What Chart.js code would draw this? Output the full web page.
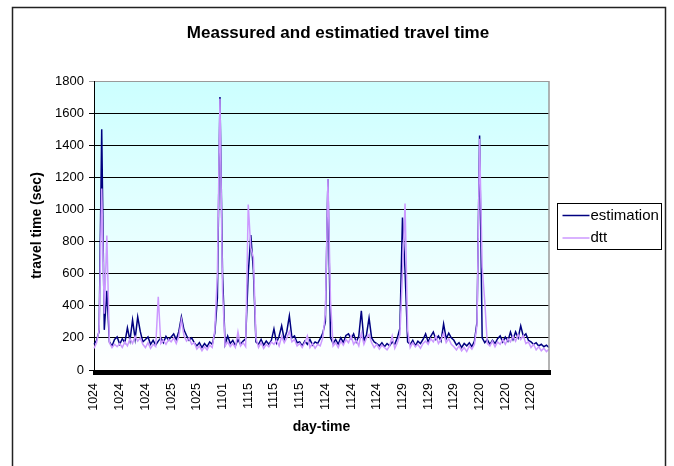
<!DOCTYPE html>
<html><head><meta charset="utf-8">
<script src="https://cdn.jsdelivr.net/npm/chart.js@4.4.1/dist/chart.umd.min.js"></script>
<style>html,body{margin:0;padding:0;background:#fff;}#wrap{width:674px;height:466px;position:relative;}</style>
</head><body><div id="wrap"><canvas id="c" width="674" height="466"></canvas></div>
<script>
const chartTitle = 'Meassured and estimatied travel time';
const xTitle = 'day-time';
const yTitle = 'travel time (sec)';
const seriesNames = ['estimation', 'dtt'];
const tickLabels = ['1024','1024','1024','1025','1025','1101','1115','1115','1115','1124','1124','1124','1129','1129','1129','1220','1220','1220'];
const pointsPerTick = 10;
const estimation = [
 160,185,240,1500,250,494,175,150,190,206,
 160,195,170,263,185,312,195,331,240,175,
 190,206,160,185,155,180,200,170,210,185,
 205,225,190,240,331,250,215,185,200,170,
 150,170,140,165,145,175,160,230,450,1700,
 600,160,212,165,185,150,190,160,180,195,
 600,840,620,175,160,190,155,180,160,185,
 256,170,210,275,190,240,337,200,212,170,
 175,150,180,160,190,155,175,165,195,230,
 300,1190,200,165,190,160,200,170,215,225,
 195,225,175,210,369,180,220,325,200,175,
 165,150,170,145,165,150,175,160,200,260,
 950,620,175,160,185,150,180,165,190,225,
 175,210,237,190,212,180,287,195,230,200,
 185,155,170,140,165,150,170,145,180,300,
 1460,200,170,190,160,185,165,195,212,175,
 205,180,237,190,237,200,275,210,225,185,
 175,160,170,150,160,145,155,140
];
const dtt = [
 135,170,250,1130,350,837,170,140,160,145,
 165,140,175,150,195,165,210,180,200,160,
 140,170,135,160,145,456,165,185,160,190,
 175,200,165,210,312,215,180,200,160,170,
 130,150,120,145,125,155,140,250,600,1690,
 500,150,175,145,165,140,237,150,170,145,
 1030,760,700,200,140,170,135,160,145,175,
 160,185,150,210,170,200,240,175,190,150,
 165,140,170,212,140,165,135,160,150,200,
 350,1190,431,150,170,140,180,155,190,170,
 210,160,185,150,230,160,200,220,170,140,
 160,130,155,140,125,150,212,135,170,220,
 600,1037,250,140,170,145,160,135,165,180,
 160,195,175,210,165,190,230,170,195,160,
 145,125,150,119,140,115,150,130,160,280,
 1440,640,431,165,150,180,145,175,160,190,
 160,195,175,210,180,220,190,215,165,175,
 140,160,125,145,120,135,115,130
];
const yMin = 0, yMax = 1800, yStep = 200;
const categories = estimation.map((_, i) => tickLabels[Math.floor(i / pointsPerTick)]);

const FONT = "'Liberation Sans', Arial, sans-serif";

const decor = {
  id: 'decor',
  beforeDraw(chart) {
    const {ctx, chartArea: a} = chart;
    ctx.save();
    ctx.fillStyle = '#fff';
    ctx.fillRect(0, 0, chart.width, chart.height);
    const g = ctx.createLinearGradient(0, a.top, 0, a.bottom);
    g.addColorStop(0, '#CCFFFF');
    g.addColorStop(1, '#FFFFFF');
    ctx.fillStyle = g;
    ctx.fillRect(a.left, a.top, a.right - a.left, a.bottom - a.top);
    ctx.strokeStyle = '#222';
    ctx.lineWidth = 1.5;
    ctx.beginPath();
    ctx.moveTo(12.5, chart.height + 2);
    ctx.lineTo(12.5, 7.5);
    ctx.lineTo(665.5, 7.5);
    ctx.lineTo(665.5, chart.height + 2);
    ctx.stroke();
    ctx.restore();
  },
  afterDraw(chart) {
    const {ctx, chartArea: a} = chart;
    ctx.save();
    ctx.strokeStyle = '#9a9a9a';
    ctx.lineWidth = 1.5;
    ctx.beginPath();
    ctx.moveTo(a.right, a.top);
    ctx.lineTo(a.right, a.bottom);
    ctx.stroke();
    ctx.fillStyle = '#000';
    ctx.font = 'bold 17px ' + FONT;
    ctx.textAlign = 'center';
    ctx.textBaseline = 'middle';
    ctx.fillText(chartTitle, 338, 33);
    const lx = 557.5, ly = 203.5, lw = 104, lh = 46;
    ctx.strokeStyle = '#000';
    ctx.lineWidth = 1;
    ctx.fillStyle = '#fff';
    ctx.fillRect(lx, ly, lw, lh);
    ctx.strokeRect(lx, ly, lw, lh);
    ctx.font = '15px ' + FONT;
    ctx.textAlign = 'left';
    chart.data.datasets.forEach((ds, k) => {
      const yy = ly + 12 + k * 22.5;
      ctx.strokeStyle = ds.borderColor;
      ctx.lineWidth = 1.5;
      ctx.beginPath();
      ctx.moveTo(lx + 5, yy);
      ctx.lineTo(lx + 32, yy);
      ctx.stroke();
      ctx.fillStyle = '#000';
      ctx.fillText(ds.label, lx + 33, yy);
    });
    ctx.restore();
  }
};

new Chart(document.getElementById('c'), {
  type: 'line',
  data: {
    labels: categories,
    datasets: [
      {label: seriesNames[0], data: estimation, borderColor: '#000080', borderWidth: 1.5, pointRadius: 0, tension: 0, order: 1},
      {label: seriesNames[1], data: dtt, borderColor: '#CC99FF', borderWidth: 1.5, pointRadius: 0, tension: 0, order: 0}
    ]
  },
  options: {
    responsive: false,
    animation: false,
    layout: {padding: {left: 12, right: 125, top: 81, bottom: 0}},
    plugins: {legend: {display: false}, tooltip: {enabled: false}, title: {display: false}},
    scales: {
      x: {
        type: 'category',
        offset: false,
        afterFit(s) { s.height = 96; },
        grid: {display: true, drawOnChartArea: false, drawTicks: true, tickLength: 5, color: '#000', lineWidth: 3},
        border: {display: true, color: '#000', width: 1},
        ticks: {
          autoSkip: false, maxRotation: 90, minRotation: 90, padding: 8,
          color: '#000', font: {family: FONT, size: 12.5},
          callback: (v, i) => (i % pointsPerTick === 0 ? categories[i] : '')
        },
        title: {display: true, text: xTitle, color: '#000', font: {family: FONT, size: 14, weight: 'bold'}, padding: {top: 0, bottom: 30}}
      },
      y: {
        min: yMin, max: yMax,
        afterFit(s) { s.width = 82; },
        grid: {
          color: (c) => (c.tick && c.tick.value === yMax ? '#9a9a9a' : '#000'),
          lineWidth: 1, tickLength: 5, drawTicks: true
        },
        border: {display: true, color: '#000', width: 1},
        ticks: {stepSize: yStep, padding: 5, color: '#000', font: {family: FONT, size: 13}, callback: (v) => String(v)},
        title: {display: true, text: yTitle, color: '#000', font: {family: FONT, size: 14, weight: 'bold'}, padding: {top: 17, bottom: 0}}
      }
    }
  },
  plugins: [decor]
});
</script>
</body></html>
